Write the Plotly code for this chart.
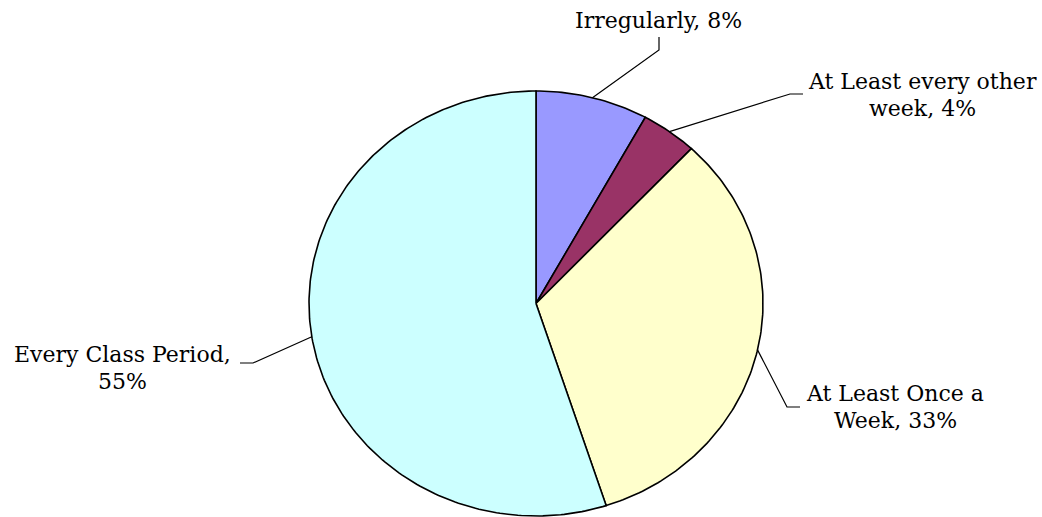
import numpy as np
import plotly.graph_objects as go

# Survey answers, clockwise from 12 o'clock
categories = ["Irregularly", "At Least every other week", "At Least Once a Week", "Every Class Period"]
percent = [8, 4, 33, 55]
colors = ["#9999FF", "#993366", "#FFFFCC", "#CCFFFF"]

# Label text as it is broken over lines
label_lines = [
    ["Irregularly, 8%"],
    ["At Least every other", "week, 4%"],
    ["At Least Once a", "Week, 33%"],
    ["Every Class Period,", "55%"],
]

W, H = 1042, 517
CX, CY = 536, 303.5      # pie centre (px)
RX, RY = 227, 212.5      # pie radii (px), slightly flattened

# leader-line elbows / ends and label anchor positions (px)
leader_bends = [[(659, 50), (659, 37)],
                [(790, 94), (803, 94)],
                [(787, 407), (800, 407)],
                [(253, 363), (240, 363)]]
label_pos = [(658, 20), (922, 81), (895, 393), (122, 354)]
line_gap = 27

FONT = dict(family="DejaVu Serif", size=22, color="black")


def point(frac):
    """Point on the pie rim at a cumulative fraction, clockwise from top."""
    a = 2 * np.pi * frac
    return CX + RX * np.sin(a), CY - RY * np.cos(a)


fig = go.Figure()
total = float(sum(percent))
start = 0.0
for name, val, col in zip(categories, percent, colors):
    f0, f1 = start / total, (start + val) / total
    ts = np.linspace(f0, f1, max(int(val * 4), 8))
    xs = [CX] + [point(t)[0] for t in ts] + [CX]
    ys = [CY] + [point(t)[1] for t in ts] + [CY]
    fig.add_trace(go.Scatter(x=xs, y=ys, mode="lines", fill="toself",
                             fillcolor=col, line=dict(color="black", width=1.6),
                             name=name, hoverinfo="name", showlegend=False))
    start += val

# leader lines from each slice's mid-rim to its label
start = 0.0
for val, bends in zip(percent, leader_bends):
    mx, my = point((start + val / 2) / total)
    xs = [mx] + [b[0] for b in bends]
    ys = [my] + [b[1] for b in bends]
    fig.add_trace(go.Scatter(x=xs, y=ys, mode="lines",
                             line=dict(color="black", width=1.2),
                             hoverinfo="skip", showlegend=False))
    start += val

for lines, (lx, ly) in zip(label_lines, label_pos):
    for i, txt in enumerate(lines):
        fig.add_annotation(x=lx, y=ly + i * line_gap, text=txt, showarrow=False,
                           xanchor="center", yanchor="middle", font=FONT)

fig.update_xaxes(range=[0, W], visible=False, fixedrange=True)
fig.update_yaxes(range=[H, 0], visible=False, fixedrange=True)
fig.update_layout(width=W, height=H, margin=dict(l=0, r=0, t=0, b=0),
                  paper_bgcolor="white", plot_bgcolor="white")

fig.write_html("out.html")
